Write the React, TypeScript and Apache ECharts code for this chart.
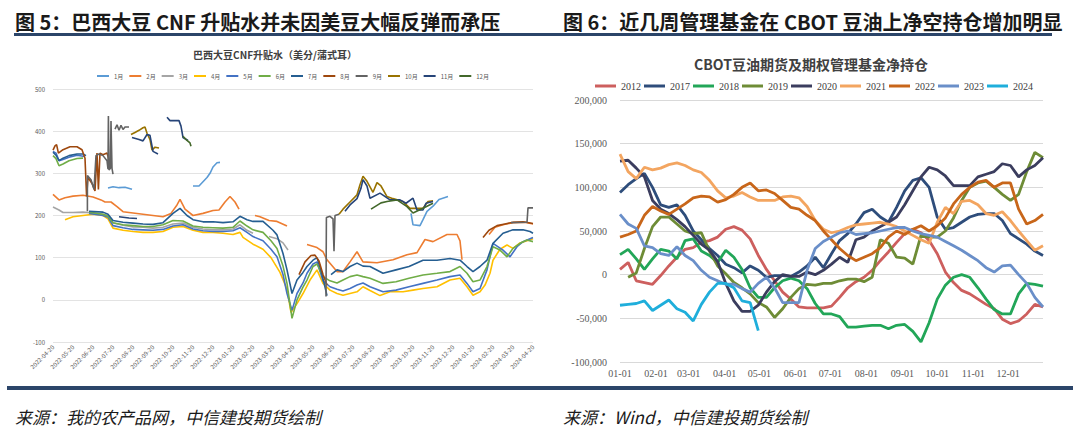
import React, { useEffect, useRef } from 'react';
import * as echarts from 'echarts';

// ---------------- Left chart (图5) ----------------
const LEFT_DATES = [
  '2022-04-20', '2022-05-20', '2022-06-20', '2022-07-20', '2022-08-20', '2022-09-20',
  '2022-10-20', '2022-11-20', '2022-12-20', '2023-01-20', '2023-02-20', '2023-03-20',
  '2023-04-20', '2023-05-20', '2023-06-20', '2023-07-20', '2023-08-20', '2023-09-20',
  '2023-10-20', '2023-11-20', '2023-12-20', '2024-01-20', '2024-02-20', '2024-03-20',
  '2024-04-20',
];
const LEFT_NAMES = ['1月', '2月', '3月', '4月', '5月', '6月', '7月', '8月', '9月', '10月', '11月', '12月'];
const LEFT_COLORS = ['#5B9BD5', '#ED7D31', '#A5A5A5', '#FFC000', '#4472C4', '#70AD47', '#255E91', '#9E480E', '#636363', '#997300', '#264478', '#43682B'];

// [month index from 2022-04-20, 美分/蒲式耳], each inner list is a continuous segment
const M01 = [
  [[2.75, 265], [3.0, 268], [3.3, 266], [3.6, 267], [3.95, 262]],
  [[7.0, 270], [7.3, 270], [7.5, 280], [7.7, 290], [7.85, 300], [8.0, 315], [8.2, 325], [8.35, 326]],
  [[17.9, 205], [18.0, 178], [18.35, 176], [18.5, 190], [18.7, 210], [19.0, 222], [19.3, 238], [19.75, 245]],
];
const M02 = [
  [[0, 250], [0.3, 237], [0.6, 242], [1.0, 246], [1.5, 248], [2.0, 244], [2.4, 237], [2.6, 232], [2.9, 232], [3.2, 221], [3.5, 209], [4.0, 206], [4.5, 203], [5.0, 200], [5.5, 197], [5.9, 205], [6.2, 225], [6.35, 238], [6.6, 215], [7.0, 200], [7.5, 205], [8.0, 212], [8.3, 213], [8.6, 232], [8.85, 245], [9.1, 232], [9.3, 215]],
  [[10.1, 200], [10.35, 197], [10.8, 188], [11.2, 186], [11.7, 175]],
  [[12.7, 131], [13.2, 124], [13.5, 114], [13.7, 95], [14.2, 67], [14.5, 67], [14.85, 90], [15.2, 114], [15.5, 90], [16.2, 88], [17.0, 95], [17.7, 107], [18.2, 112], [18.6, 143], [19.0, 138], [19.7, 155], [20.2, 155], [20.35, 140], [20.45, 95]],
  [[21.8, 155], [22.1, 172], [22.5, 178], [23.0, 183], [23.6, 184], [24.0, 180]],
];
const M03 = [
  [[0, 220], [0.3, 213], [0.5, 207], [1.0, 207], [1.5, 208], [2.0, 206], [2.5, 203], [2.75, 200], [3.0, 182], [3.5, 177], [4.0, 173], [4.5, 172], [5.0, 170], [5.5, 172], [6.0, 180], [6.5, 182], [7.0, 172], [7.5, 168], [8.0, 166], [8.5, 166], [9.0, 168], [9.35, 178], [9.7, 165], [10.0, 158]],
  [[10.8, 150], [11.2, 145], [11.5, 135], [11.75, 118]],
];
const M04 = [
  [[0.6, 190], [1.0, 197], [1.5, 200], [2.0, 203], [2.5, 200], [2.75, 192], [3.0, 170], [3.5, 165], [4.0, 162], [4.5, 160], [5.0, 160], [5.5, 162], [6.0, 172], [6.5, 174], [7.0, 165], [7.5, 160], [8.0, 160], [8.5, 158], [9.0, 155], [9.35, 160], [9.5, 148], [10.0, 132], [10.5, 120], [10.9, 100], [11.35, 65], [11.7, 25], [11.9, -30], [12.2, -9], [12.5, 15], [12.85, 47], [13.2, 71], [13.5, 39], [13.85, 23], [14.2, 15], [14.5, 11], [14.85, 15], [15.2, 19], [15.5, 31], [15.85, 22], [16.35, 10], [16.85, 19], [17.5, 19], [18.0, 23], [18.5, 27], [19.2, 31], [19.85, 47], [20.35, 51], [20.7, 31], [21.0, 11], [21.35, 19], [21.6, 35], [21.85, 63], [22.0, 94], [22.35, 120], [22.7, 130], [23.0, 122], [23.35, 135], [23.7, 140], [24.0, 145]],
];
const M05 = [
  [[0, 352], [0.15, 348], [0.3, 330], [0.5, 333], [0.8, 338], [1.2, 343], [1.6, 340]],
  [[1.8, 205], [2.5, 200], [2.75, 196], [3.0, 176], [3.5, 171], [4.0, 167], [4.5, 166], [5.0, 165], [5.5, 167], [6.0, 175], [6.5, 178], [7.0, 168], [7.5, 164], [8.0, 162], [8.5, 162], [9.0, 164], [9.35, 171], [9.7, 160], [10.0, 150], [10.5, 140], [10.9, 120], [11.2, 102], [11.5, 60], [11.7, 15], [11.95, -25], [12.2, 15], [12.5, 40], [12.7, 63], [13.0, 85], [13.2, 90], [13.5, 45], [13.85, 31], [14.2, 25], [14.5, 21], [14.85, 27], [15.2, 35], [15.5, 40], [15.85, 31], [16.5, 19], [17.15, 23], [17.8, 31], [18.5, 39], [19.2, 47], [19.85, 55], [20.35, 59], [20.7, 39], [21.0, 19], [21.35, 27], [21.7, 71], [22.0, 134], [22.5, 118], [22.85, 102], [23.2, 126], [23.5, 138], [24.0, 148]],
];
const M06 = [
  [[0, 342], [0.15, 335], [0.3, 318], [0.5, 322], [0.8, 330], [1.2, 335], [1.5, 336]],
  [[1.8, 208], [2.5, 203], [2.75, 198], [3.0, 183], [3.5, 178], [4.0, 176], [4.5, 174], [5.0, 174], [5.5, 178], [6.0, 188], [6.5, 187], [7.0, 175], [7.5, 172], [8.0, 171], [8.5, 170], [9.0, 172], [9.35, 187], [9.7, 175], [10.0, 166], [10.5, 160], [10.9, 140], [11.2, 122], [11.5, 80], [11.7, 39], [11.95, -44], [12.2, 0], [12.5, 30], [12.7, 47], [13.0, 79], [13.2, 85], [13.5, 55], [13.85, 45], [14.2, 40], [14.5, 47], [14.85, 55], [15.2, 59], [15.5, 55], [15.85, 51], [16.5, 39], [17.15, 43], [17.8, 51], [18.5, 59], [19.2, 63], [19.85, 67], [20.35, 79], [20.7, 63], [21.0, 43], [21.35, 47], [21.7, 79], [22.0, 126], [22.35, 118], [22.7, 102], [23.0, 122], [23.35, 134], [23.7, 142], [24.0, 138]],
];
const M07 = [
  [[0, 350], [0.15, 343], [0.3, 330], [0.5, 336], [0.8, 342], [1.2, 346], [1.5, 346], [1.65, 342]],
  [[1.8, 210], [2.5, 208], [2.75, 203], [3.0, 188], [3.5, 184], [4.0, 182], [4.5, 180], [5.0, 179], [5.5, 183], [6.0, 205], [6.35, 217], [6.7, 200], [7.0, 190], [7.5, 185], [8.0, 185], [8.5, 183], [9.0, 185], [9.35, 198], [9.7, 190], [10.0, 186], [10.5, 186], [11.0, 165], [11.2, 154], [11.5, 110], [11.7, 71], [11.95, 15], [12.2, 47], [12.5, 65], [12.7, 79], [13.0, 94], [13.2, 100], [13.4, 70], [13.6, 30], [13.7, 10]],
  [[13.9, 60], [14.2, 71], [14.5, 67], [14.85, 79], [15.2, 87], [15.5, 80], [15.85, 79], [16.5, 63], [17.15, 71], [17.8, 79], [18.5, 94], [19.2, 94], [19.85, 98], [20.35, 94], [20.7, 79], [21.0, 67], [21.35, 79], [21.7, 94], [22.0, 134], [22.5, 158], [23.0, 166], [23.5, 166], [23.85, 162], [24.0, 158]],
];
const M08 = [
  [[0, 355], [0.1, 365], [0.18, 368], [0.27, 348], [0.5, 356], [0.85, 363], [1.2, 363], [1.45, 356], [1.6, 336], [1.68, 245], [1.75, 290], [1.95, 276], [2.1, 258], [2.2, 348], [2.27, 262], [2.35, 348], [2.5, 344], [2.7, 348], [2.8, 332]],
  [[12.3, 60], [12.6, 90], [12.9, 105], [13.1, 106], [13.3, 92], [13.5, 60], [13.7, 35]],
  [[21.5, 148], [21.8, 165], [22.2, 176], [22.6, 180], [23.0, 184], [23.5, 185], [24.0, 181]],
];
const M09 = [
  [[1.72, 210], [1.72, 295], [1.9, 285], [2.05, 262], [2.15, 342], [2.3, 346], [2.5, 342], [2.7, 330], [2.75, 310], [2.77, 436], [2.8, 308], [2.87, 312], [2.9, 424], [2.95, 312], [3.0, 298]],
  [[3.1, 405], [3.2, 415], [3.3, 402], [3.4, 414], [3.5, 404], [3.6, 410], [3.8, 410]],
  [[13.65, 8], [13.67, 195], [13.85, 198], [14.0, 192], [14.05, 115], [14.1, 200], [14.3, 203]],
  [[22.9, 183], [23.7, 184], [23.75, 218], [24.0, 218]],
];
const M10 = [
  [[3.9, 392], [4.1, 397], [4.3, 402], [4.5, 408], [4.6, 410], [4.7, 395], [4.85, 380], [4.95, 355], [5.1, 362], [5.3, 360]],
  [[14.3, 203], [14.5, 215], [14.85, 232], [15.2, 249], [15.35, 273], [15.5, 293], [15.7, 281], [16.0, 255], [16.2, 278], [16.4, 270], [16.7, 245], [17.0, 240], [17.5, 233], [17.85, 217], [18.5, 217], [18.75, 233], [19.0, 235]],
];
const M11 = [
  [[3.95, 385], [4.3, 380], [4.5, 377], [4.7, 392], [4.85, 390], [5.0, 352], [5.25, 346]],
  [[5.7, 433], [5.85, 425], [6.3, 425], [6.4, 412], [6.5, 385], [6.75, 378]],
  [[3.3, 197], [3.8, 194], [4.2, 193]],
  [[14.6, 210], [14.85, 225], [15.2, 240], [15.4, 265], [15.5, 285], [15.7, 270], [15.85, 241], [16.35, 253], [16.85, 237], [17.35, 237], [17.65, 229], [18.0, 241], [18.2, 213], [18.5, 213], [18.65, 229], [19.0, 233]],
];
const M12 = [
  [[6.5, 388], [6.7, 378], [6.85, 372], [6.9, 364]],
  [[15.9, 215], [16.4, 230], [16.7, 233], [17.2, 237], [17.7, 221], [18.0, 206], [18.5, 217], [19.0, 229]],
];
const LEFT_DATA = [M01, M02, M03, M04, M05, M06, M07, M08, M09, M10, M11, M12];

// ---------------- Right chart (图6) ----------------
const MONTH_TICKS = ['01-01', '02-01', '03-01', '04-01', '05-01', '06-01', '07-01', '08-01', '09-01', '10-01', '11-01', '12-01'];
const RIGHT_YEARS = ['2012', '2017', '2018', '2019', '2020', '2021', '2022', '2023', '2024'];
const RIGHT_COLORS = ['#CD5F5E', '#2E4D7B', '#22A658', '#6E8C36', '#3B3D5E', '#F3A560', '#C8661A', '#6A8FC9', '#1FAEDB'];
// weekly net positions, thousand contracts (week 0 = 01-01)
const Y2012 = [6, 14, -7, -9, -11, -1, 10, 20, 29, 31, 37, 39, 43, 52, 55, 51, 41, 22, 6, -7, -20, -28, -37, -38, -38, -38, -36, -26, -15, -8, -3, 5, 16, 26, 37, 47, 52, 48, 39, 24, 3, -9, -18, -22, -28, -34, -39, -51, -56, -53, -45, -34, -37];
const Y2017 = [94, 103, 110, 116, 100, 80, 77, 80, 68, 50, 40, 30, 22, 12, 8, 2, 10, 5, -3, -1, -1, -2, 3, 10, 20, 8, 24, 39, 47, 58, 71, 75, 66, 60, 77, 96, 108, 111, 100, 66, 52, 54, 60, 66, 69, 70, 70, 62, 47, 41, 35, 27, 22];
const Y2018 = [23, 29, 18, 6, 18, 29, 27, 18, 39, 41, 27, 22, 14, 28, 20, 6, -15, -26, -26, -15, -7, -4, -7, -16, -33, -45, -45, -48, -60, -60, -59, -58, -58, -62, -58, -57, -65, -77, -55, -28, -12, -3, 0, -3, -15, -28, -40, -45, -45, -22, -10, -11, -13];
const Y2019 = [null, -3, 2, 30, 55, 66, 66, 58, 50, 47, 48, 27, 10, 1, -9, -15, -22, -32, -37, -49, -39, -26, -16, -11, -12, -10, -10, -7, -5, -5, -8, -3, 40, 36, 20, 19, 12, 45, 43, 43, 50, 65, 85, 100, 105, 107, 100, 92, 85, 92, 118, 140, 134];
const Y2020 = [130, 131, 122, 112, 85, 75, 70, 63, 55, 45, 35, 28, 15, -10, -30, -42, -42, -35, -20, -8, 0, -2, -2, 3, 0, 5, 12, 20, 14, 40, 43, 50, 55, 60, 66, 80, 96, 112, 123, 120, 113, 102, 102, 102, 112, 115, 118, 127, 125, 112, 120, 125, 134];
const Y2021 = [138, 118, 110, 123, 120, 122, 126, 128, 125, 120, 117, 108, 96, 88, 90, 94, 89, 85, 85, 85, 89, 90, 88, 78, 62, 52, 48, 50, 54, 57, 58, 59, 60, 58, 55, 50, 45, 40, 36, 60, 77, 70, 84, 85, 80, 70, 68, 72, 62, 50, 39, 28, 33];
const Y2022 = [43, 46, 50, 68, 78, 73, 69, 75, 81, 88, 90, 89, 83, 86, 92, 100, 105, 96, 97, 93, 85, 77, 75, 68, 62, 50, 40, 30, 22, 16, 20, 24, 31, 43, 50, 46, 52, 56, 50, 56, 65, 81, 92, 100, 106, 108, 100, 105, 105, 75, 58, 62, 69];
const Y2023 = [69, 58, 53, 33, 31, 24, 22, 32, 22, 16, 5, -3, -7, -11, -11, -16, -20, -10, -3, -15, -32, -32, -32, 5, 30, 38, 43, 48, 50, 46, 47, 48, 50, 52, 54, 54, 50, 47, 45, 43, 38, 33, 28, 22, 16, 8, 3, 10, 11, 0, -10, -26, -37];
const Y2024 = [-35, -34, -33, -30, -41, -35, -29, -39, -43, -53, -34, -20, -10, -10, -15, -30, -32, -64];
const RIGHT_DATA = [Y2012, Y2017, Y2018, Y2019, Y2020, Y2021, Y2022, Y2023, Y2024];

const DAY_CATEGORIES: string[] = [];
for (let i = 0; i < 365; i++) {
  const d = new Date(Date.UTC(2023, 0, 1 + i));
  DAY_CATEGORIES.push(String(d.getUTCMonth() + 1).padStart(2, '0') + '-' + String(d.getUTCDate()).padStart(2, '0'));
}

function joinSegments(segs: number[][][]) {
  const out: any[] = [];
  segs.forEach((s, i) => {
    if (i > 0) out.push([s[0][0], '-']);
    s.forEach((p) => out.push([p[0], p[1]]));
  });
  return out;
}

const FONT = '"Noto Sans CJK SC", "Noto Sans", sans-serif';

function buildOption(): any {
  const leftSeries = LEFT_NAMES.map((name, i) => ({
    name,
    type: 'line',
    xAxisIndex: 0,
    yAxisIndex: 0,
    data: joinSegments(LEFT_DATA[i] as any),
    symbol: 'none',
    connectNulls: false,
    lineStyle: { width: 1.6, color: LEFT_COLORS[i] },
    itemStyle: { color: LEFT_COLORS[i] },
  }));
  const rightSeries = RIGHT_YEARS.map((name, i) => ({
    name,
    type: 'line',
    xAxisIndex: 1,
    yAxisIndex: 1,
    data: RIGHT_DATA[i].map((v, w) => [w * 7, v === null ? '-' : v * 1000]),
    symbol: 'none',
    lineStyle: { width: 2.8, color: RIGHT_COLORS[i] },
    itemStyle: { color: RIGHT_COLORS[i] },
  }));

  return {
    animation: false,
    textStyle: { fontFamily: FONT },
    grid: [
      { left: 53, top: 89, width: 480, height: 253 },
      { left: 620, top: 100, width: 423, height: 262 },
    ],
    legend: [
      {
        data: LEFT_NAMES,
        left: 92,
        top: 68,
        icon: 'rect',
        itemWidth: 12,
        itemHeight: 2,
        itemGap: 6,
        textStyle: { fontSize: 6, color: '#595959', fontFamily: FONT },
      },
      {
        data: RIGHT_YEARS,
        left: 590,
        top: 76,
        icon: 'rect',
        itemWidth: 21,
        itemHeight: 3,
        itemGap: 3,
        textStyle: { fontSize: 10, color: '#404040', fontFamily: '"Liberation Serif", serif' },
      },
    ],
    xAxis: [
      {
        type: 'value',
        gridIndex: 0,
        min: 0,
        max: 24,
        interval: 1,
        axisLine: { show: false },
        axisTick: { show: false },
        splitLine: { show: false },
        axisLabel: {
          rotate: 45,
          fontSize: 6,
          color: '#595959',
          margin: 4,
          formatter: (v: number) => LEFT_DATES[Math.round(v)] ?? '',
        },
      },
      {
        type: 'category',
        gridIndex: 1,
        data: DAY_CATEGORIES,
        boundaryGap: false,
        axisLine: { show: false },
        axisTick: { show: false },
        splitLine: { show: false },
        axisLabel: {
          interval: (_i: number, val: string) => MONTH_TICKS.includes(val),
          fontSize: 10,
          color: '#595959',
          margin: 6,
          fontFamily: '"Liberation Serif", serif',
        },
      },
    ],
    yAxis: [
      {
        type: 'value',
        gridIndex: 0,
        min: -100,
        max: 500,
        interval: 100,
        axisLine: { show: false },
        axisTick: { show: false },
        axisLabel: { fontSize: 6, color: '#595959', margin: 8 },
        splitLine: { lineStyle: { color: '#E3E3E3', width: 1 } },
      },
      {
        type: 'value',
        gridIndex: 1,
        min: -100000,
        max: 200000,
        interval: 50000,
        axisLine: { show: false },
        axisTick: { show: false },
        axisLabel: {
          fontSize: 10,
          color: '#595959',
          margin: 13,
          fontFamily: '"Liberation Serif", serif',
          formatter: (v: number) => v.toLocaleString('en-US'),
        },
        splitLine: { lineStyle: { color: '#D9D9D9', width: 1 } },
      },
    ],
    graphic: [
      {
        type: 'text',
        left: 15,
        top: 11,
        style: { text: '图 5：巴西大豆 CNF 升贴水并未因美豆大幅反弹而承压', font: `bold 20px ${FONT}`, fill: '#1A1A1A' },
      },
      {
        type: 'text',
        left: 563,
        top: 11,
        style: { text: '图 6：近几周管理基金在 CBOT 豆油上净空持仓增加明显', font: `bold 20px ${FONT}`, fill: '#1A1A1A' },
      },
      { type: 'rect', shape: { x: 14, y: 33, width: 1038, height: 3 }, style: { fill: '#2B4569' } },
      { type: 'rect', shape: { x: 7, y: 386, width: 1066, height: 4 }, style: { fill: '#2B4569' } },
      {
        type: 'text',
        x: 275,
        y: 54,
        style: { text: '巴西大豆CNF升贴水（美分/蒲式耳）', font: `bold 10px ${FONT}`, fill: '#404040', textAlign: 'center', textVerticalAlign: 'middle' },
      },
      {
        type: 'text',
        x: 811,
        y: 64,
        style: { text: 'CBOT豆油期货及期权管理基金净持仓', font: `bold 14px ${FONT}`, fill: '#404040', textAlign: 'center', textVerticalAlign: 'middle' },
      },
      {
        type: 'text',
        x: 15,
        y: 416,
        style: { text: '来源：我的农产品网，中信建投期货绘制', font: `italic 17px ${FONT}`, fill: '#1A1A1A', textVerticalAlign: 'middle' },
      },
      {
        type: 'text',
        x: 563,
        y: 416,
        style: { text: '来源：Wind，中信建投期货绘制', font: `italic 17px ${FONT}`, fill: '#1A1A1A', textVerticalAlign: 'middle' },
      },
    ],
    series: [...leftSeries, ...rightSeries],
  };
}

export default function App() {
  const ref = useRef<HTMLDivElement>(null);
  useEffect(() => {
    document.body.style.margin = '0';
    const chart = echarts.init(ref.current!, null, { renderer: 'svg' });
    chart.setOption(buildOption());
    return () => chart.dispose();
  }, []);
  return <div ref={ref} style={{ width: 1080, height: 443, background: '#fff' }} />;
}
